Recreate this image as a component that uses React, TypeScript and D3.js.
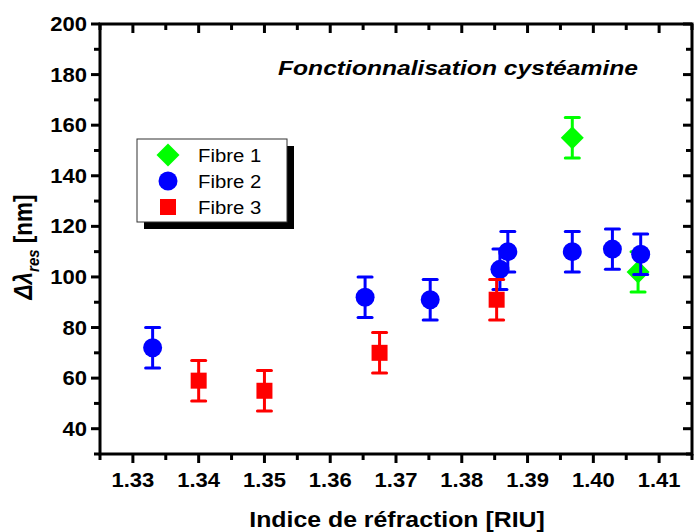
import React from "react";
import * as d3 from "d3";

const fibre1X = [1.3968, 1.4068];
const fibre1Y = [155, 102];
const fibre1Err = [8, 8];

const fibre2X = [1.333, 1.3653, 1.3752, 1.3858, 1.387, 1.3968, 1.4029, 1.4072];
const fibre2Y = [72, 92, 91, 103, 110, 110, 111, 109];
const fibre2Err = [8, 8, 8, 8, 8, 8, 8, 8];

const fibre3X = [1.34, 1.35, 1.3675, 1.3853];
const fibre3Y = [59, 55, 70, 91];
const fibre3Err = [8, 8, 8, 8];

const xTicks = [1.33, 1.34, 1.35, 1.36, 1.37, 1.38, 1.39, 1.4, 1.41];
const yTicks = [40, 60, 80, 100, 120, 140, 160, 180, 200];

const W = 694, H = 532;
const L = 100, R = 692, T = 24, B = 454;
const FONT = "'Liberation Sans', Arial, sans-serif";
const SX = 1.13;

type Shape = "diamond" | "circle" | "square";

function Marker({ shape, cx, cy, color }: { shape: Shape; cx: number; cy: number; color: string }) {
  if (shape === "circle") return <circle cx={cx} cy={cy} r={9.5} fill={color} />;
  if (shape === "square") return <rect x={cx - 8} y={cy - 8} width={16} height={16} fill={color} />;
  const s = 11.5;
  return <polygon points={`${cx},${cy - s} ${cx + s},${cy} ${cx},${cy + s} ${cx - s},${cy}`} fill={color} />;
}

function Txt({ x, y, children, ...rest }: any) {
  return (
    <text transform={`translate(${x},${y}) scale(${SX},1)`} {...rest}>
      {children}
    </text>
  );
}

export default function App() {
  const x = d3.scaleLinear().domain([1.325, 1.415]).range([L, R]);
  const y = d3.scaleLinear().domain([30, 200]).range([B, T]);
  const xMinor = d3.range(0, 19).map((i) => 1.325 + i * 0.005);
  const yMinor = d3.range(30, 201, 10);

  const series = [
    { name: "Fibre 1", xs: fibre1X, ys: fibre1Y, es: fibre1Err, color: "#00ff00", shape: "diamond" as Shape },
    { name: "Fibre 2", xs: fibre2X, ys: fibre2Y, es: fibre2Err, color: "#0000ff", shape: "circle" as Shape },
    { name: "Fibre 3", xs: fibre3X, ys: fibre3Y, es: fibre3Err, color: "#ff0000", shape: "square" as Shape },
  ];

  const lx = 137, ly = 139, lw = 150, lh = 83;

  return (
    <svg width={W} height={H} style={{ position: "absolute", left: 0, top: 0 }} fontFamily={FONT}>
      <rect width={W} height={H} fill="white" />
      {series.map((s) => (
        <g key={s.name}>
          {s.xs.map((xv, i) => {
            const cx = x(xv);
            const y1 = y(s.ys[i] + s.es[i]);
            const y2 = y(s.ys[i] - s.es[i]);
            return (
              <g key={i} stroke={s.color} strokeWidth={3}>
                <line x1={cx} x2={cx} y1={y1} y2={y2} />
                <line x1={cx - 7} x2={cx + 7} y1={y1} y2={y1} strokeLinecap="round" />
                <line x1={cx - 7} x2={cx + 7} y1={y2} y2={y2} strokeLinecap="round" />
              </g>
            );
          })}
          {s.xs.map((xv, i) => (
            <Marker key={i} shape={s.shape} cx={x(xv)} cy={y(s.ys[i])} color={s.color} />
          ))}
        </g>
      ))}
      <rect x={L} y={T} width={R - L} height={B - T} fill="none" stroke="black" strokeWidth={3} />
      {xMinor.map((v, i) => {
        const major = xTicks.some((t) => Math.abs(t - v) < 1e-6);
        const len = major ? 9 : 6;
        return (
          <g key={i} stroke="black" strokeWidth={3}>
            <line x1={x(v)} x2={x(v)} y1={B} y2={B + len} />
            <line x1={x(v)} x2={x(v)} y1={T} y2={T + len} />
          </g>
        );
      })}
      {yMinor.map((v, i) => {
        const major = yTicks.includes(v);
        const len = major ? 9 : 6;
        return (
          <g key={i} stroke="black" strokeWidth={3}>
            <line x1={L} x2={L - len} y1={y(v)} y2={y(v)} />
            <line x1={R} x2={R - len} y1={y(v)} y2={y(v)} />
          </g>
        );
      })}
      {xTicks.map((v) => (
        <Txt key={v} x={x(v)} y={487} textAnchor="middle" fontSize={19.5} fontWeight="bold">
          {v.toFixed(2)}
        </Txt>
      ))}
      {yTicks.map((v) => (
        <Txt key={v} x={87} y={y(v) + 7} textAnchor="end" fontSize={19.5} fontWeight="bold">
          {v}
        </Txt>
      ))}
      <Txt x={397} y={527} textAnchor="middle" fontSize={22} fontWeight="bold">
        Indice de réfraction [RIU]
      </Txt>
      <text transform={`translate(32,${247}) scale(${SX},1) rotate(-90)`} textAnchor="middle" fontSize={22.5} fontWeight="bold">
        <tspan fontStyle="italic">Δλ</tspan>
        <tspan fontStyle="italic" fontSize={15} dy={6}>res</tspan>
        <tspan dy={-6}> [nm]</tspan>
      </text>
      <text x={278} y={75} fontSize={19.5} fontWeight="bold" fontStyle="italic" textLength={360} lengthAdjust="spacingAndGlyphs">
        Fonctionnalisation cystéamine
      </text>
      <rect x={lx + 7} y={ly + 7} width={lw} height={lh} fill="black" />
      <rect x={lx} y={ly} width={lw} height={lh} fill="white" stroke="#333" strokeWidth={1} />
      {series.map((s, i) => (
        <g key={s.name}>
          <Marker shape={s.shape} cx={168} cy={155 + i * 26} color={s.color} />
          <Txt x={198} y={155 + i * 26 + 6.5} fontSize={18}>
            {s.name}
          </Txt>
        </g>
      ))}
    </svg>
  );
}
